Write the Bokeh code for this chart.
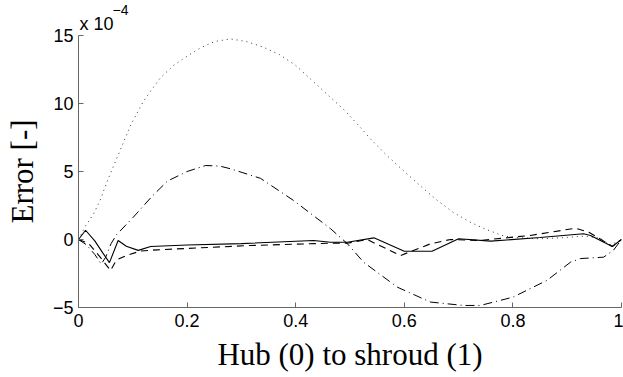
from bokeh.plotting import figure
from bokeh.models import Range1d, Title, FixedTicker
from bokeh.embed import file_html
from bokeh.resources import INLINE

# Error values in units of 1e-4
dotted_x = [0, 0.013, 0.028, 0.04, 0.053, 0.075, 0.096, 0.12, 0.151, 0.175, 0.197, 0.225, 0.25, 0.28,
            0.31, 0.34, 0.37, 0.40, 0.43, 0.46, 0.49, 0.52, 0.54, 0.57, 0.6, 0.635, 0.66, 0.69, 0.72,
            0.75, 0.78, 0.8, 0.85, 0.9, 0.93, 0.96, 0.98, 1.0]
dotted_y = [0, 1.0, 1.9, 2.9, 4.3, 6.4, 8.4, 10.2, 11.9, 12.8, 13.4, 14.1, 14.55, 14.75,
            14.55, 14.15, 13.6, 12.8, 11.7, 10.6, 9.5, 8.2, 7.3, 6.1, 5.0, 3.75, 2.9, 2.0, 1.3,
            0.75, 0.3, 0.15, 0.05, 0.15, 0.25, 0.1, -0.4, 0]

dashdot_x = [0, 0.015, 0.03, 0.042, 0.05, 0.06, 0.07, 0.1, 0.136, 0.164, 0.2, 0.234, 0.26, 0.28,
             0.335, 0.396, 0.464, 0.495, 0.525, 0.587, 0.648, 0.709, 0.74, 0.8, 0.863, 0.906,
             0.925, 0.967, 0.985, 1.0]
dashdot_y = [0, -0.4, -1.1, -1.8, -1.3, -0.3, 0.35, 1.6, 3.2, 4.3, 5.0, 5.44, 5.4, 5.2,
             4.5, 2.87, 0.8, -0.3, -1.67, -3.5, -4.6, -4.85, -4.85, -4.24, -3.0, -1.67,
             -1.4, -1.3, -0.8, 0]

solid_x = [0, 0.013, 0.03, 0.045, 0.057, 0.073, 0.088, 0.11, 0.133, 0.2, 0.3, 0.433, 0.464,
           0.495, 0.544, 0.6, 0.651, 0.70, 0.759, 0.85, 0.93, 0.943, 0.983, 1.0]
solid_y = [0, 0.68, -0.1, -1.0, -1.7, -0.07, -0.5, -0.8, -0.52, -0.4, -0.3, -0.07, -0.2,
           -0.2, 0.12, -0.86, -0.86, 0.05, -0.12, 0.15, 0.42, 0.3, -0.51, 0]

dashed_x = [0, 0.019, 0.04, 0.059, 0.07, 0.09, 0.114, 0.145, 0.317, 0.464, 0.495, 0.532, 0.547,
            0.593, 0.648, 0.685, 0.74, 0.832, 0.915, 0.94, 0.983, 1.0]
dashed_y = [0, -0.3, -1.3, -2.28, -1.5, -1.15, -0.85, -0.76, -0.44, -0.27, -0.27, 0, -0.3,
            -1.18, -0.32, 0, -0.07, 0.3, 0.83, 0.54, -0.51, 0]

x_ticks = [0, 0.2, 0.4, 0.6, 0.8, 1.0]
x_tick_labels = ["0", "0.2", "0.4", "0.6", "0.8", "1"]
y_ticks = [-5, 0, 5, 10, 15]
y_tick_labels = ["\u22125", "0", "5", "10", "15"]
scale_text = "x 10"
scale_exp = "\u22124"

p = figure(width=623, height=377, output_backend="svg", toolbar_location=None,
           x_range=Range1d(0, 1), y_range=Range1d(-5, 15),
           min_border_left=78, min_border_right=2, min_border_top=35, min_border_bottom=70)
p.outline_line_color = None
p.xgrid.visible = False
p.ygrid.visible = False
p.background_fill_color = "white"
p.border_fill_color = "white"

p.line(dotted_x, dotted_y, line_color="#333333", line_width=1, line_dash="1 4")
p.line(dashdot_x, dashdot_y, line_color="black", line_width=1, line_dash="9 4 1 4")
p.line(dashed_x, dashed_y, line_color="black", line_width=1.1, line_dash="7 5")
p.line(solid_x, solid_y, line_color="black", line_width=1.1)

for ax, ticks, labels in ((p.xaxis[0], x_ticks, x_tick_labels), (p.yaxis[0], y_ticks, y_tick_labels)):
    ax.ticker = FixedTicker(ticks=ticks)
    ax.major_label_overrides = {t: l for t, l in zip(ticks, labels)}
    ax.minor_tick_line_color = None
    ax.major_tick_in = 5
    ax.major_tick_out = 0
    ax.axis_line_color = "#666666"
    ax.major_tick_line_color = "#666666"
    ax.major_label_text_font = "Liberation Sans"
    ax.major_label_text_font_size = "18px"
    ax.major_label_text_color = "black"
    ax.axis_label_text_font = "Liberation Serif"
    ax.axis_label_text_font_size = "31px"
    ax.axis_label_text_font_style = "normal"
    ax.axis_label_text_color = "black"

p.xaxis.axis_label = "Hub (0) to shroud (1)"
p.yaxis.axis_label = "Error [-]"
p.xaxis.major_label_standoff = 6
p.yaxis.major_label_standoff = 5
p.xaxis.axis_label_standoff = 7
p.yaxis.axis_label_standoff = 10

t1 = Title(text=scale_text, align="left", offset=1, standoff=3,
           text_font="Liberation Sans", text_font_size="18px", text_font_style="normal",
           text_color="black")
t2 = Title(text=scale_exp, align="left", offset=34, standoff=-9,
           text_font="Liberation Sans", text_font_size="14px", text_font_style="normal",
           text_color="black")
p.add_layout(t1, "above")
p.add_layout(t2, "above")

open("out.html", "w").write(file_html(p, INLINE))
